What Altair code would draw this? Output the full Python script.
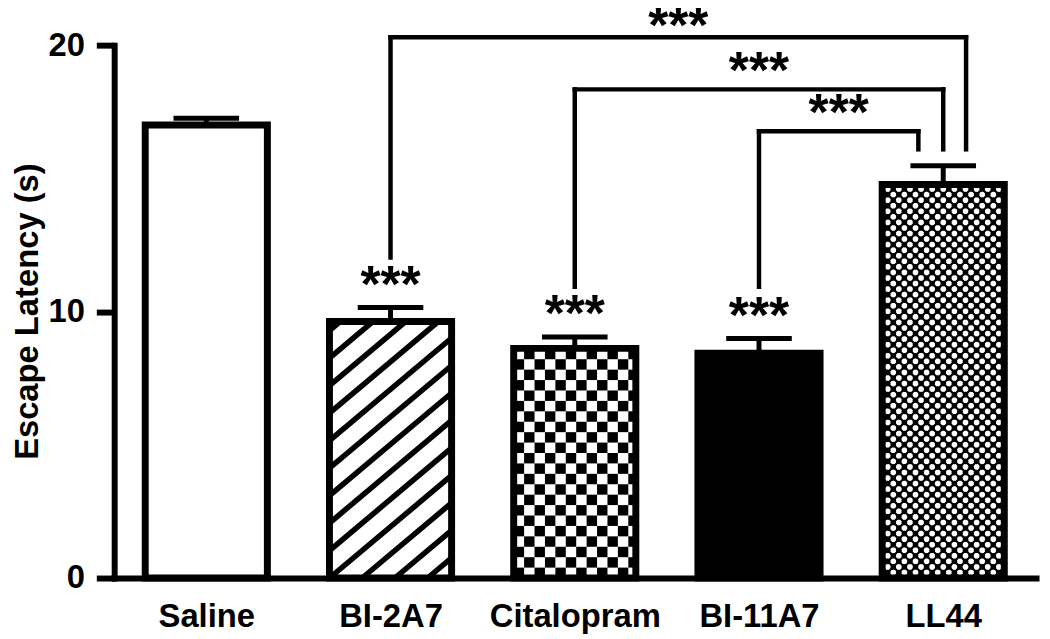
import json
import altair as alt
import pandas as pd
import numpy as np

# ---------------- data ----------------
categories = ["Saline", "BI-2A7", "Citalopram", "BI-11A7", "LL44"]
means = [17.0, 9.63, 8.62, 8.44, 14.77]
sems = [0.26, 0.52, 0.43, 0.55, 0.70]
patterns = ["none", "stripes", "checker", "solid", "lattice"]
bar_stars = ["", "***", "***", "***", ""]

bracket_left = [1.0, 2.0, 3.0]
bracket_right = [4.124, 4.0, 3.865]
bracket_height = [20.3, 18.34, 16.77]
bracket_left_bottom = [12.03, 10.93, 10.93]
bracket_right_bottom = [16.09, 16.09, 16.09]
bracket_labels = ["***", "***", "***"]

y_ticks = [0, 10, 20]

# ---------------- layout / style ----------------
FONT = "Liberation Sans"
PLOT_W, PLOT_H = 929, 537
X_DOM = [-0.5, 4.5038]
Y_DOM = [0, 20]
KX = PLOT_W / (X_DOM[1] - X_DOM[0])
KY = PLOT_H / (Y_DOM[1] - Y_DOM[0])
BAR_HALF = 0.3315
CAP_HALF = 0.178
STAR_SIZE = 52
STAR_TOP_LIMIT = 20.04  # keeps the highest stars inside the canvas

STRIPE_SLOPE = 0.84
STRIPE_V = 27.7
CHECK = 10.5
LAT = 5.6

bars = pd.DataFrame({
    "cat": categories,
    "idx": list(range(len(categories))),
    "mean": means,
    "sem": sems,
    "pattern": patterns,
})
bars["x0"] = bars["idx"] - BAR_HALF
bars["x1"] = bars["idx"] + BAR_HALF
bars["top"] = bars["mean"] + bars["sem"]
bars["c0"] = bars["idx"] - CAP_HALF
bars["c1"] = bars["idx"] + CAP_HALF
bars["zero"] = 0.0
bars["fill"] = ["black" if p == "solid" else "white" for p in patterns]
bars["stars"] = bar_stars

# ---------- pattern geometry derived from the bar values ----------
def to_data(i, u, v):
    return i - BAR_HALF + u / KX, v / KY

stripe_rows, check_rows, lat_lines, lat_dots = [], [], [], []
for i, (m_val, pat) in enumerate(zip(means, patterns)):
    Wb = 2 * BAR_HALF * KX
    Hb = m_val * KY
    if pat == "stripes":
        m = STRIPE_SLOPE
        kmin = int(np.floor(-m * Wb / STRIPE_V)) - 1
        kmax = int(np.ceil(Hb / STRIPE_V)) + 1
        for k in range(kmin, kmax + 1):
            c = k * STRIPE_V
            u_lo = max(0.0, -c / m)
            u_hi = min(Wb, (Hb - c) / m)
            if u_hi > u_lo:
                xa, ya = to_data(i, u_lo, m * u_lo + c)
                xb, yb = to_data(i, u_hi, m * u_hi + c)
                stripe_rows.append({"x": xa, "y": ya, "x2": xb, "y2": yb})
    elif pat == "checker":
        ncol = int(np.ceil(Wb / CHECK))
        nrow = int(np.ceil(Hb / CHECK))
        for ic in range(ncol):
            for jr in range(nrow):
                if (ic + jr) % 2 == 0:
                    u0, u1 = ic * CHECK, min((ic + 1) * CHECK, Wb)
                    v0, v1 = jr * CHECK, min((jr + 1) * CHECK, Hb)
                    xa, ya = to_data(i, u0, v0)
                    xb, yb = to_data(i, u1, v1)
                    check_rows.append({"x": xa, "y": ya, "x2": xb, "y2": yb})
    elif pat == "lattice":
        step = 2 * LAT
        for k in range(int(np.floor(-Wb / step)) - 1, int(np.ceil(Hb / step)) + 2):
            c = k * step
            u_lo, u_hi = max(0.0, -c), min(Wb, Hb - c)
            if u_hi > u_lo:
                xa, ya = to_data(i, u_lo, u_lo + c)
                xb, yb = to_data(i, u_hi, u_hi + c)
                lat_lines.append({"x": xa, "y": ya, "x2": xb, "y2": yb})
        for k in range(0, int(np.ceil((Wb + Hb) / step)) + 2):
            c = k * step
            u_lo, u_hi = max(0.0, c - Hb), min(Wb, c)
            if u_hi > u_lo:
                xa, ya = to_data(i, u_lo, c - u_lo)
                xb, yb = to_data(i, u_hi, c - u_hi)
                lat_lines.append({"x": xa, "y": ya, "x2": xb, "y2": yb})
        for ic in range(int(np.floor(Wb / LAT)) + 1):
            for jr in range(int(np.floor(Hb / LAT)) + 1):
                if (ic + jr) % 2 == 0:
                    xa, ya = to_data(i, ic * LAT, jr * LAT)
                    lat_dots.append({"x": xa, "y": ya})

stripes_df = pd.DataFrame(stripe_rows)
check_df = pd.DataFrame(check_rows)
lat_lines_df = pd.DataFrame(lat_lines)
lat_dots_df = pd.DataFrame(lat_dots)

# ---------- brackets ----------
seg = []
for l, r, h, lb, rb in zip(bracket_left, bracket_right, bracket_height,
                           bracket_left_bottom, bracket_right_bottom):
    seg.append({"x": l, "x2": l, "y": lb, "y2": h})
    seg.append({"x": l, "x2": r, "y": h, "y2": h})
    seg.append({"x": r, "x2": r, "y": h, "y2": rb})
seg_df = pd.DataFrame(seg)
br_text = pd.DataFrame({
    "x": [(l + r) / 2 for l, r in zip(bracket_left, bracket_right)],
    "y": [min(h, STAR_TOP_LIMIT) for h in bracket_height],
    "t": bracket_labels,
})

# ---------- axes ----------
label_expr = json.dumps(categories) + "[datum.value]"

x_axis = alt.Axis(
    values=list(range(len(categories))), labelExpr=label_expr, title=None,
    grid=False, ticks=False, domainWidth=6, domainColor="black",
    domainCap="square", labelFont=FONT, labelFontSize=33, labelFontWeight="bold",
    labelColor="black", labelPadding=49, labelBaseline="alphabetic",
    labelAlign="center", labelFlush=False, labelOverlap=False,
)
y_axis = alt.Axis(
    values=y_ticks, title="Escape Latency (s)", grid=False, format="d",
    domainWidth=6, domainColor="black", domainCap="square",
    tickWidth=6, tickSize=18, tickColor="black",
    labelFont=FONT, labelFontSize=33, labelFontWeight="bold", labelColor="black",
    labelPadding=12, titleFont=FONT, titleFontSize=33, titleFontWeight="bold",
    titleColor="black", titleAngle=270, titleX=-77, titleY=268,
    titleAlign="center", titleBaseline="alphabetic",
)

xs = alt.Scale(domain=X_DOM, nice=False, zero=False)
ys = alt.Scale(domain=Y_DOM, nice=False, zero=True)

def X(f):
    return alt.X(f, type="quantitative", scale=xs, axis=x_axis)

def Y(f):
    return alt.Y(f, type="quantitative", scale=ys, axis=y_axis)

base = alt.Chart(bars)

fill_layer = base.mark_rect().encode(
    x=X("x0"), x2="x1:Q", y=Y("zero"), y2="mean:Q",
    color=alt.Color("fill:N", scale=None),
)

stripes = alt.Chart(stripes_df).mark_rule(color="black", strokeWidth=5.5, strokeCap="butt").encode(
    x=X("x"), x2="x2:Q", y=Y("y"), y2="y2:Q")
checker = alt.Chart(check_df).mark_rect(color="black").encode(
    x=X("x"), x2="x2:Q", y=Y("y"), y2="y2:Q")
lat_l = alt.Chart(lat_lines_df).mark_rule(color="black", strokeWidth=2.2).encode(
    x=X("x"), x2="x2:Q", y=Y("y"), y2="y2:Q")
lat_d = alt.Chart(lat_dots_df).mark_point(filled=True, color="black", size=32, opacity=1).encode(
    x=X("x"), y=Y("y"))

outline = base.mark_rect(fillOpacity=0, stroke="black", strokeWidth=7).encode(
    x=X("x0"), x2="x1:Q", y=Y("zero"), y2="mean:Q")

err_v = base.mark_rule(color="black", strokeWidth=5).encode(
    x=X("idx"), y=Y("mean"), y2="top:Q")
err_c = base.mark_rule(color="black", strokeWidth=5).encode(
    x=X("c0"), x2="c1:Q", y=Y("top"))

stars = base.transform_filter("datum.stars != ''").mark_text(
    font=FONT, fontSize=STAR_SIZE, fontWeight="bold", color="black",
    baseline="alphabetic", align="center", dy=-6).encode(
    x=X("idx"), y=Y("top"), text="stars:N")

brackets = alt.Chart(seg_df).mark_rule(color="black", strokeWidth=4.5, strokeCap="square").encode(
    x=X("x"), x2="x2:Q", y=Y("y"), y2="y2:Q")
br_stars = alt.Chart(br_text).mark_text(
    font=FONT, fontSize=STAR_SIZE, fontWeight="bold", color="black",
    baseline="alphabetic", align="center", dy=-1).encode(
    x=X("x"), y=Y("y"), text="t:N")

chart = alt.layer(
    fill_layer, stripes, checker, lat_l, lat_d, outline, err_v, err_c,
    stars, brackets, br_stars,
).properties(
    width=PLOT_W, height=PLOT_H,
    autosize=alt.AutoSizeParams(type="none"),
    padding={"left": 107, "top": 35, "right": 6, "bottom": 59},
    background="white",
).configure_view(stroke=None).configure_axis(zindex=1)

chart.save("out.html", embed_options={"renderer": "svg", "actions": False})
